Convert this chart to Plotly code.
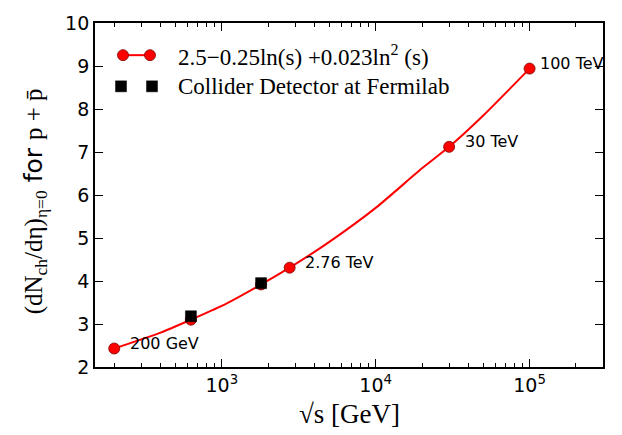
import plotly.graph_objects as go
import math

# ---- data ----
curve_sqrt_s = [200, 400, 630, 1000, 1800, 2760, 5000, 10000, 20000, 30000, 50000, 100000]
curve_dndeta = [2.43, 2.80, 3.10, 3.42, 3.92, 4.31, 4.91, 5.70, 6.62, 7.12, 7.85, 8.94]

model_sqrt_s = [200, 630, 1800, 2760, 30000, 100000]
model_dndeta = [2.43, 3.10, 3.92, 4.31, 7.12, 8.94]

cdf_sqrt_s = [630, 1800]
cdf_dndeta = [3.18, 3.95]

label_sqrt_s = [200, 2760, 30000, 100000]
label_dndeta = [2.43, 4.31, 7.12, 8.94]
label_text = ["200 GeV", "2.76 TeV", "30 TeV", "100 TeV"]
label_xshift = [14, 13, 14, 8]

x_major = [1e3, 1e4, 1e5]
x_major_text = ["10<sup>3</sup>", "10<sup>4</sup>", "10<sup>5</sup>"]
x_minor = [m * 10 ** e for e in (2, 3, 4, 5) for m in range(2, 10) if 150 <= m * 10 ** e <= 3e5 and m * 10 ** e not in (1e3, 1e4, 1e5)]

legend_names = ["2.5\u22120.25ln(s) +0.023ln<sup>2</sup> (s)", "Collider Detector at Fermilab"]

SERIF = "Liberation Serif"
SANS = "DejaVu Sans"
RED = "#ff0000"

fig = go.Figure()
fig.add_trace(go.Scatter(x=curve_sqrt_s, y=curve_dndeta, mode="lines",
                         line=dict(color=RED, width=2, shape="spline", smoothing=0.6),
                         showlegend=False, hoverinfo="skip"))
fig.add_trace(go.Scatter(x=model_sqrt_s, y=model_dndeta, mode="markers", name=legend_names[0],
                         marker=dict(color=RED, size=11, symbol="circle",
                                     line=dict(color="#7a0000", width=0.8)),
                         showlegend=False))
fig.add_trace(go.Scatter(x=cdf_sqrt_s, y=cdf_dndeta, mode="markers", name=legend_names[1],
                         marker=dict(color="black", size=11, symbol="square",
                                     line=dict(color="black", width=0.5)),
                         showlegend=False))

# point labels
for xs, ys, t, dx in zip(label_sqrt_s, label_dndeta, label_text, label_xshift):
    fig.add_annotation(x=math.log10(xs), y=ys, text=t, showarrow=False,
                       xanchor="left", yanchor="middle", xshift=dx, yshift=5,
                       font=dict(family=SANS, size=16, color="black"))

# ---- plot geometry ----
L, R, T, B = 95, 19, 14, 68
W, H = 622, 435
pw, ph = W - L - R, H - T - B

def px(xp):
    return (xp - L) / pw

def py(yp):
    return (H - B - yp) / ph

# custom legend (matplotlib style with two symbols)
ly1, ly2 = 47, 79
fig.add_shape(type="line", xref="paper", yref="paper", x0=px(123), x1=px(150), y0=py(ly1), y1=py(ly1),
              line=dict(color=RED, width=2))
for cx in (123, 150):
    fig.add_shape(type="circle", xref="paper", yref="paper", xsizemode="pixel", ysizemode="pixel",
                  xanchor=px(cx), yanchor=py(ly1), x0=-5.5, x1=5.5, y0=-5.5, y1=5.5,
                  fillcolor=RED, line=dict(color="#7a0000", width=0.8))
for cx in (121, 152):
    fig.add_shape(type="rect", xref="paper", yref="paper", xsizemode="pixel", ysizemode="pixel",
                  xanchor=px(cx), yanchor=py(ly2), x0=-5.5, x1=5.5, y0=-5.5, y1=5.5,
                  fillcolor="black", line=dict(color="black", width=0.5))
for name, yy in zip(legend_names, (ly1, ly2)):
    fig.add_annotation(xref="paper", yref="paper", x=px(176), y=py(yy), text=name, showarrow=False,
                       xanchor="left", yanchor="middle", font=dict(family=SERIF, size=23, color="black"))

# axis titles
fig.add_annotation(xref="paper", yref="paper", x=0.5, y=py(415), text="\u221as [GeV]", showarrow=False,
                   xanchor="center", yanchor="middle", font=dict(family=SERIF, size=27, color="black"))
ytitle = ('<span style="font-family:Liberation Serif">(dN<sub>ch</sub>/d\u03b7)<sub>\u03b7=0</sub></span>'
          ' for <span style="font-family:Liberation Serif">p + p\u0304</span>')
fig.add_annotation(xref="paper", yref="paper", x=px(35), y=py(197), text=ytitle, showarrow=False,
                   textangle=-90, xanchor="center", yanchor="middle",
                   font=dict(family=SANS, size=25, color="black"))

fig.update_layout(
    width=W, height=H,
    margin=dict(l=L, r=R, t=T, b=B, pad=0),
    paper_bgcolor="white", plot_bgcolor="white",
    showlegend=False,
)
fig.update_xaxes(type="log", range=[math.log10(150), math.log10(3e5)],
                 tickmode="array", tickvals=x_major, ticktext=x_major_text,
                 ticks="inside", ticklen=8, tickwidth=1.3, tickcolor="black",
                 minor=dict(tickmode="array", tickvals=x_minor, ticks="inside", ticklen=4.5,
                            tickwidth=1.2, tickcolor="black", showgrid=False),
                 showline=True, linecolor="black", linewidth=1.8, mirror="ticks",
                 showgrid=False, zeroline=False,
                 tickfont=dict(family=SANS, size=19, color="black"))
fig.update_yaxes(range=[2, 10], dtick=1, tick0=2,
                 ticks="inside", ticklen=8, tickwidth=1.3, tickcolor="black",
                 showline=True, linecolor="black", linewidth=1.8, mirror="ticks",
                 showgrid=False, zeroline=False,
                 tickfont=dict(family=SANS, size=19, color="black"))

fig.write_html("out.html")
